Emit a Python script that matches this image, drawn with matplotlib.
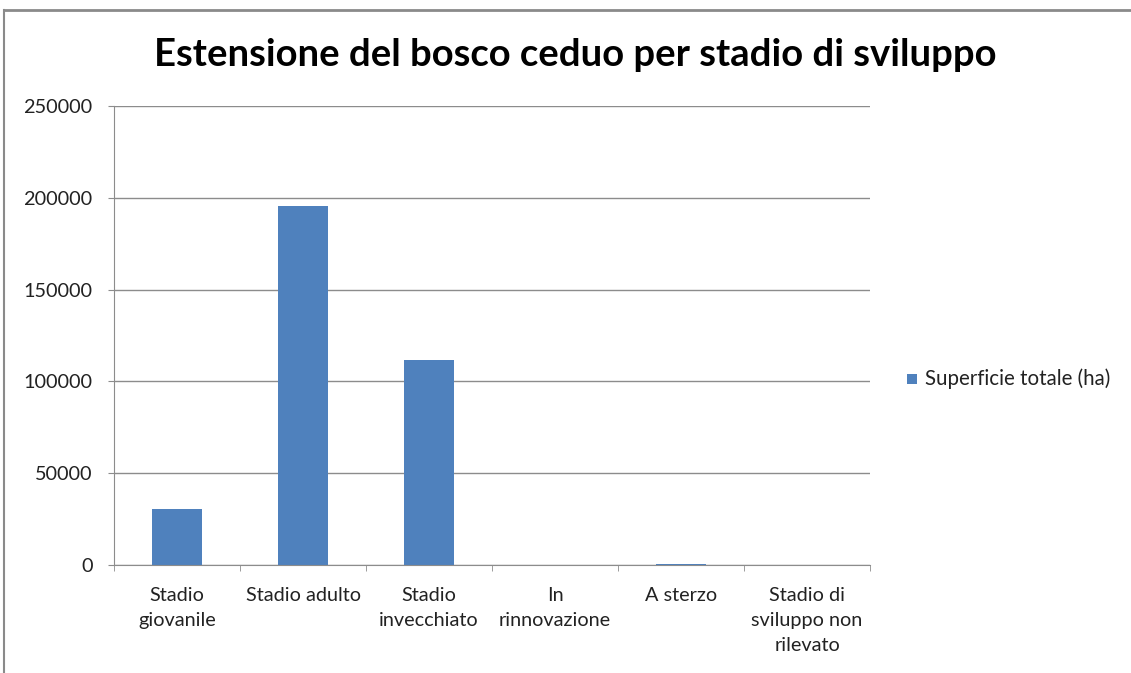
import matplotlib
matplotlib.use("Agg")
import matplotlib.pyplot as plt
from matplotlib.patches import Rectangle
from matplotlib.lines import Line2D

categories = ["Stadio\ngiovanile", "Stadio adulto", "Stadio\ninvecchiato",
              "In\nrinnovazione", "A sterzo", "Stadio di\nsviluppo non\nrilevato"]
values = [30500, 195500, 111500, 0, 700, 0]
series_name = "Superficie totale (ha)"
yticks = [0, 50000, 100000, 150000, 200000, 250000]

W, H = 1131, 673
fig = plt.figure(figsize=(W / 100, H / 100), dpi=100)
plt.rcParams['font.family'] = ['Lato', 'DejaVu Sans']

# outer chart frame (partially cropped)
fig.add_artist(Line2D([3.5 / W, 3.5 / W], [0, 1 - 10 / H], transform=fig.transFigure,
                      color="#8a8a8a", lw=1.5))
fig.add_artist(Line2D([3.5 / W, 1], [1 - 10 / H, 1 - 10 / H], transform=fig.transFigure,
                      color="#8a8a8a", lw=2))

x0, x1 = 114, 870
y0, y1 = 565, 106
ax = fig.add_axes([x0 / W, 1 - y0 / H, (x1 - x0) / W, (y0 - y1) / H])

pos = list(range(len(categories)))
ax.bar(pos, values, width=0.4, color="#4F81BD", label=series_name, zorder=3)
ax.set_xlim(-0.5, len(categories) - 0.5)
ax.set_ylim(0, 250000)
ax.set_yticks(yticks)
ax.set_yticklabels([str(v) for v in yticks], fontsize=14.3, color="#222222")
ax.yaxis.grid(True, color="#8c8c8c", lw=1, zorder=0)
ax.set_axisbelow(True)

for s in ["top", "right"]:
    ax.spines[s].set_visible(False)
ax.spines["left"].set_color("#8c8c8c")
ax.spines["bottom"].set_color("#8c8c8c")
ax.spines["bottom"].set_zorder(4)

ax.set_xticks([p + 0.5 for p in pos[:-1]] + [-0.5, len(categories) - 0.5], minor=True)
ax.set_xticks(pos)
ax.set_xticklabels(categories, fontsize=14.3, color="#222222", linespacing=1.55, va="top")
ax.tick_params(axis="x", which="major", length=0, pad=16)
ax.tick_params(axis="x", which="minor", length=4.5, color="#8c8c8c", direction="out")
ax.tick_params(axis="y", length=4.5, color="#8c8c8c", pad=11)

fig.text(575 / W, 1 - 55 / H, "Estensione del bosco ceduo per stadio di sviluppo",
         ha="center", va="center", fontsize=27.5, fontweight="bold", color="#000000")

# legend
fig.add_artist(Rectangle((907 / W, 1 - 384 / H), 10 / W, 10 / H, transform=fig.transFigure,
                         facecolor="#4F81BD", edgecolor="none"))
fig.text(925 / W, 1 - 379 / H, series_name, ha="left", va="center", fontsize=14.8,
         color="#222222")

fig.savefig("out.png", dpi=100, facecolor="white")
